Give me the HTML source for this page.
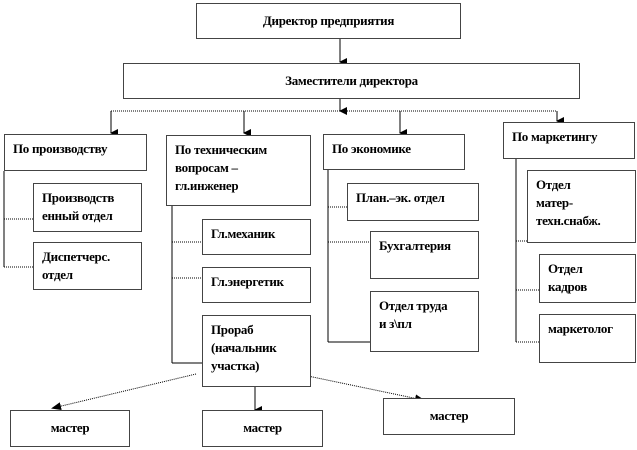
<!DOCTYPE html>
<html><head><meta charset="utf-8"><style>
body{margin:0;width:637px;height:450px;background:#fff;position:relative;overflow:hidden;font-family:"Liberation Serif",serif;font-weight:bold;font-size:13px;color:#000}
.b{position:absolute;border:1px solid #444;box-sizing:border-box;background:#fff;padding:5px 8px;line-height:18px;letter-spacing:-0.3px}
.c{text-align:center}
svg{position:absolute;left:0;top:0}
</style></head><body>
<svg width="637" height="450">
<defs><marker id="a" markerWidth="8" markerHeight="8" refX="4" refY="7" orient="auto-start-reverse" markerUnits="userSpaceOnUse"><path d="M0,0 L8,0 L4,8z" fill="#000"/></marker>
<marker id="s" markerWidth="10" markerHeight="8" refX="8" refY="4" orient="auto" markerUnits="userSpaceOnUse"><path d="M0,0 L10,4 L0,8z" fill="#000"/></marker></defs>
<g stroke="#000" stroke-width="1" fill="none">
<line x1="340" y1="39" x2="340" y2="62" marker-end="url(#a)"/>
<line x1="340" y1="99" x2="340" y2="111" marker-end="url(#a)"/>
<line x1="111" y1="111" x2="557" y2="111" stroke-dasharray="1,1"/>
<line x1="111" y1="111" x2="111" y2="133" marker-end="url(#a)"/>
<line x1="244" y1="111" x2="244" y2="133" marker-end="url(#a)"/>
<line x1="400" y1="111" x2="400" y2="133" marker-end="url(#a)"/>
<line x1="557" y1="111" x2="557" y2="121" marker-end="url(#a)"/>
<line x1="4" y1="171" x2="4" y2="267"/>
<line x1="4" y1="219" x2="33" y2="219" stroke-dasharray="1,1"/>
<line x1="4" y1="267" x2="33" y2="267" stroke-dasharray="1,1"/>
<line x1="172" y1="206" x2="172" y2="363"/>
<line x1="172" y1="242" x2="202" y2="242" stroke-dasharray="1,1"/>
<line x1="172" y1="278" x2="202" y2="278" stroke-dasharray="1,1"/>
<line x1="172" y1="363" x2="202" y2="363"/>
<line x1="328" y1="170" x2="328" y2="342"/>
<line x1="328" y1="207" x2="347" y2="207" stroke-dasharray="1,1"/>
<line x1="328" y1="242" x2="370" y2="242" stroke-dasharray="1,1"/>
<line x1="328" y1="342" x2="370" y2="342"/>
<line x1="516" y1="159" x2="516" y2="342"/>
<line x1="516" y1="241" x2="527" y2="241" stroke-dasharray="1,1"/>
<line x1="516" y1="290" x2="539" y2="290" stroke-dasharray="1,1"/>
<line x1="516" y1="342" x2="539" y2="342" stroke-dasharray="1,1"/>
<line x1="196" y1="374" x2="53" y2="408" stroke-dasharray="1,1" marker-end="url(#s)"/>
<line x1="255" y1="387" x2="255" y2="410" marker-end="url(#a)"/>
<line x1="303" y1="375" x2="423" y2="400" stroke-dasharray="1,1" marker-end="url(#s)"/>
</g></svg>
<div class="b c" style="left:196px;top:3px;width:265px;height:36px;padding-top:8px">Директор предприятия</div>
<div class="b c" style="left:123px;top:63px;width:457px;height:36px;padding-top:8px">Заместители директора</div>
<div class="b" style="left:4px;top:134px;width:143px;height:37px">По производству</div>
<div class="b" style="left:166px;top:135px;width:145px;height:71px">По техническим<br>вопросам –<br>гл.инженер</div>
<div class="b" style="left:323px;top:134px;width:142px;height:36px">По экономике</div>
<div class="b" style="left:503px;top:122px;width:132px;height:37px">По маркетингу</div>
<div class="b" style="left:33px;top:183px;width:109px;height:49px">Производств<br>енный отдел</div>
<div class="b" style="left:33px;top:242px;width:109px;height:48px">Диспетчерс.<br>отдел</div>
<div class="b" style="left:202px;top:219px;width:109px;height:36px">Гл.механик</div>
<div class="b" style="left:202px;top:267px;width:109px;height:36px">Гл.энергетик</div>
<div class="b" style="left:202px;top:315px;width:109px;height:72px">Прораб<br>(начальник<br>участка)</div>
<div class="b" style="left:347px;top:183px;width:132px;height:38px">План.–эк. отдел</div>
<div class="b" style="left:370px;top:231px;width:109px;height:48px">Бухгалтерия</div>
<div class="b" style="left:370px;top:291px;width:109px;height:61px">Отдел труда<br>и з\пл</div>
<div class="b" style="left:527px;top:170px;width:109px;height:73px">Отдел<br>матер-<br>техн.снабж.</div>
<div class="b" style="left:539px;top:254px;width:97px;height:49px">Отдел<br>кадров</div>
<div class="b" style="left:539px;top:314px;width:97px;height:49px">маркетолог</div>
<div class="b c" style="left:10px;top:410px;width:120px;height:37px;padding-top:8px">мастер</div>
<div class="b c" style="left:202px;top:410px;width:121px;height:37px;padding-top:8px">мастер</div>
<div class="b c" style="left:383px;top:398px;width:132px;height:37px;padding-top:8px">мастер</div>
</body></html>
